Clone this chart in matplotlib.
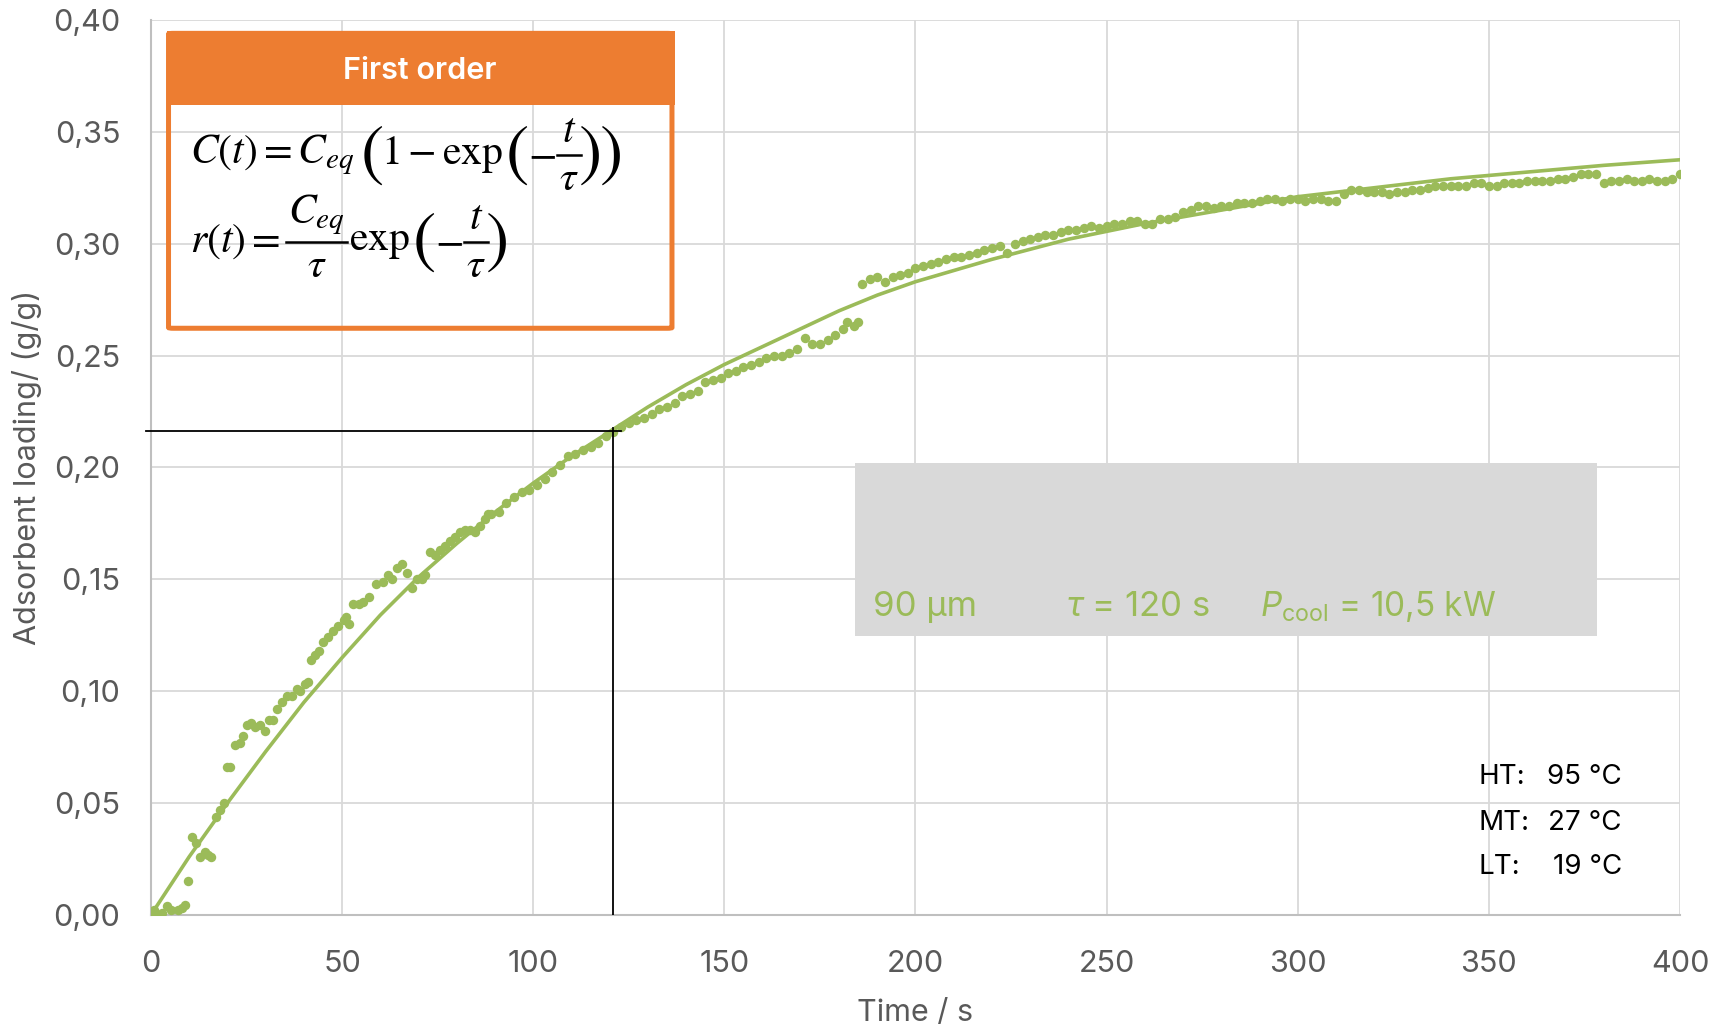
import matplotlib
matplotlib.use("Agg")
import matplotlib.pyplot as plt
from matplotlib.patches import Rectangle, FancyBboxPatch
from matplotlib.lines import Line2D
from matplotlib.transforms import IdentityTransform

plt.rcParams['font.family'] = ['Inter', 'DejaVu Sans']
plt.rcParams['mathtext.fontset'] = 'custom'
plt.rcParams['mathtext.rm'] = 'Inter'
plt.rcParams['mathtext.it'] = 'Inter:italic'

time_s = [0, 0.8, 1.5, 3.0, 4.1, 5.3, 7.1, 8.0, 8.9, 9.8, 10.8, 11.9, 12.8, 14.1, 15.0, 15.8,
          17.0, 18.0, 19.0, 19.8, 20.8, 22.0, 23.3, 24.0, 25.0, 26.3, 27.2, 28.5, 29.8, 31.0,
          32.0, 32.9, 34.2, 35.5, 36.8, 38.1, 39.1, 40.3, 41.1, 42.0, 42.9, 44.0, 44.9, 46.4,
          47.7, 49.0, 50.4, 51.1, 51.9, 52.9, 54.5, 55.5, 57.1, 59.0, 60.8, 62.1, 63.0, 64.3,
          65.8, 66.9, 68.2, 69.5, 70.8, 71.6, 73.0, 74.3, 75.6, 76.9, 78.2, 79.5, 80.8, 82.1,
          83.5, 84.8, 86.1, 87.4, 88.2,
          89, 91, 93, 95, 97, 99, 101, 103, 105, 107, 109, 111, 113, 115, 117, 119, 121, 123,
          125, 127, 129, 131, 133, 135, 137, 139, 141, 143, 145, 147, 149, 151, 153, 155, 157,
          159, 161, 163, 165, 167, 169, 171, 173, 175, 177, 179, 181, 182, 184, 185,
          186, 188, 190, 192, 194, 196, 198, 200, 202, 204, 206, 208, 210, 212, 214, 216, 218,
          220, 222, 224, 226, 228, 230, 232, 234, 236, 238, 240, 242, 244, 246, 248, 250, 252,
          254, 256, 258, 260, 262, 264, 266, 268, 270, 272, 274, 276, 278, 280, 282, 284, 286,
          288, 290, 292, 294, 296, 298, 300, 302, 304, 306, 308, 310, 312, 314, 316, 318, 320,
          322, 324, 326, 328, 330, 332, 334, 336, 338, 340, 342, 344, 346, 348, 350, 352, 354,
          356, 358, 360, 362, 364, 366, 368, 370, 372, 374, 376, 378, 380, 382, 384, 386, 388,
          390, 392, 394, 396, 398, 400]
loading = [0.000, 0.002, 0.000, 0.001, 0.004, 0.002, 0.002, 0.003, 0.0045, 0.015, 0.035, 0.032,
           0.026, 0.028, 0.027, 0.026, 0.044, 0.047, 0.050, 0.066, 0.066, 0.076, 0.077, 0.080,
           0.085, 0.086, 0.084, 0.085, 0.082, 0.087, 0.087, 0.092, 0.095, 0.098, 0.098, 0.101,
           0.100, 0.103, 0.104, 0.114, 0.116, 0.118, 0.122, 0.124, 0.127, 0.129, 0.132, 0.133,
           0.130, 0.139, 0.139, 0.140, 0.142, 0.148, 0.149, 0.152, 0.150, 0.155, 0.157, 0.153,
           0.146, 0.150, 0.150, 0.152, 0.162, 0.161, 0.163, 0.165, 0.167, 0.169, 0.171, 0.172,
           0.172, 0.171, 0.174, 0.177, 0.179,
           0.179, 0.180, 0.184, 0.187, 0.189, 0.190, 0.192, 0.195, 0.198, 0.201, 0.205, 0.206,
           0.208, 0.209, 0.211, 0.214, 0.216, 0.218, 0.220, 0.221, 0.222, 0.224, 0.226, 0.227,
           0.229, 0.232, 0.233, 0.234, 0.238, 0.239, 0.240, 0.242, 0.243, 0.245, 0.246, 0.247,
           0.249, 0.250, 0.250, 0.251, 0.253, 0.258, 0.255, 0.255, 0.257, 0.259, 0.262, 0.265,
           0.263, 0.265,
           0.282, 0.284, 0.285, 0.283, 0.285, 0.286, 0.287, 0.289, 0.290, 0.291, 0.292, 0.293,
           0.294, 0.294, 0.295, 0.296, 0.297, 0.298, 0.299, 0.296, 0.300, 0.301, 0.302, 0.303,
           0.304, 0.304, 0.305, 0.306, 0.306, 0.307, 0.308, 0.307, 0.308, 0.309, 0.309, 0.310,
           0.310, 0.309, 0.309, 0.311, 0.311, 0.312, 0.314, 0.315, 0.317, 0.317, 0.316, 0.317,
           0.317, 0.318, 0.318, 0.318, 0.319, 0.320, 0.320, 0.319, 0.320, 0.320, 0.319, 0.320,
           0.320, 0.319, 0.319, 0.322, 0.324, 0.324, 0.323, 0.323, 0.323, 0.322, 0.323, 0.323,
           0.324, 0.324, 0.325, 0.326, 0.326, 0.326, 0.326, 0.326, 0.327, 0.327, 0.326, 0.326,
           0.327, 0.327, 0.327, 0.328, 0.328, 0.328, 0.328, 0.329, 0.329, 0.330, 0.331, 0.331,
           0.331, 0.327, 0.328, 0.328, 0.329, 0.328, 0.328, 0.329, 0.328, 0.328, 0.329, 0.331]

# first order fit curve
fit_t = [0, 10, 20, 30, 40, 50, 60, 70, 80, 90, 100, 110, 120, 130, 140, 150, 160, 170, 180,
         190, 200, 220, 240, 260, 280, 300, 320, 340, 360, 380, 400]
fit_c = [0, 0.026, 0.050, 0.073, 0.095, 0.115, 0.134, 0.151, 0.166, 0.180, 0.193, 0.205, 0.216,
         0.227, 0.237, 0.246, 0.254, 0.262, 0.270, 0.277, 0.283, 0.293, 0.302, 0.309, 0.315,
         0.321, 0.325, 0.329, 0.332, 0.335, 0.3375]

tau_t = 121
tau_c = 0.2165

x_ticks = [0, 50, 100, 150, 200, 250, 300, 350, 400]
y_ticks = [0, 0.05, 0.10, 0.15, 0.20, 0.25, 0.30, 0.35, 0.40]
y_labels = ['0,00', '0,05', '0,10', '0,15', '0,20', '0,25', '0,30', '0,35', '0,40']

green = '#9BBB59'
orange = '#ED7D31'
grey_txt = '#595959'

EQ_FS = 30
PAR_FS = 50
# equation pieces: ('t', mathtext, fontsize, gap px) or ('f', numerator, denominator, gap px)
eq_c = [('t', r'$C(t) = C_{eq}$', EQ_FS, 5), ('t', r'$($', PAR_FS, -2),
        ('t', r'$1 - \exp$', EQ_FS, 2), ('t', r'$($', PAR_FS, 0), ('t', r'$-$', EQ_FS, 1),
        ('f', r'$t$', r'$\tau$', -3), ('t', r'$)$', PAR_FS, -1), ('t', r'$)$', PAR_FS, 0)]
eq_r = [('t', r'$r(t) =$', EQ_FS, 6), ('f', r'$C_{eq}$', r'$\tau$', 2), ('t', r'$\exp$', EQ_FS, 2),
        ('t', r'$($', PAR_FS, 0), ('t', r'$-$', EQ_FS, 1), ('f', r'$t$', r'$\tau$', -3),
        ('t', r'$)$', PAR_FS, 0)]

fig = plt.figure(figsize=(17.27, 10.27), dpi=100)
ax = fig.add_axes([0.0874, 0.1091, 0.8854, 0.8715])

ax.plot(time_s, loading, 'o', color=green, ms=6.8, mec='none', zorder=3)
ax.plot(fit_t, fit_c, '-', color=green, lw=2.6, zorder=4)

# tau marker lines
ax.plot([-1.2, tau_t + 2], [tau_c, tau_c], color='black', lw=1.3, clip_on=False, zorder=5)
ax.plot([tau_t, tau_t], [0, tau_c + 0.001], color='black', lw=1.3, zorder=5)

ax.set_xlim(0, 400)
ax.set_ylim(0, 0.40)
ax.set_xticks(x_ticks)
ax.set_yticks(y_ticks)
ax.set_yticklabels(y_labels)
ax.grid(True, color='#D9D9D9', lw=1.3)
ax.set_axisbelow(True)
for s in ['top', 'right']:
    ax.spines[s].set_visible(False)
for s in ['left', 'bottom']:
    ax.spines[s].set_color('#BFBFBF')
    ax.spines[s].set_linewidth(1.5)
ax.tick_params(axis='both', length=0, labelsize=22, labelcolor=grey_txt)
ax.tick_params(axis='x', pad=25)
ax.tick_params(axis='y', pad=22)
ax.set_xlabel('Time / s', fontsize=22, color=grey_txt, labelpad=15)
ax.set_ylabel('Adsorbent loading/ (g/g)', fontsize=22, color=grey_txt, labelpad=8)

# orange formula box
ax.add_patch(FancyBboxPatch((4.6, 0.2622), 131.7, 0.1318, boxstyle='round,pad=0,rounding_size=1.2',
                            fill=False, ec=orange, lw=3.6, zorder=6, mutation_aspect=0.0003))
ax.add_patch(Rectangle((4.6, 0.3635), 131.7, 0.0305, fc=orange, ec=orange, lw=3.6, zorder=6))
ax.text(70.4, 0.377, 'First order', color='white', fontsize=22, fontweight='semibold',
        ha='center', va='center', zorder=7)

renderer = fig.canvas.get_renderer()


def put(x, y, s, fs, ha, va):
    return fig.text(x, y, s, fontsize=fs, math_fontfamily='stix', ha=ha, va=va,
                    transform=IdentityTransform(), zorder=7)


def math_row(x0, y0, pieces):
    # lay the pieces side by side around one fraction-bar height
    xd, yd = ax.transData.transform((x0, y0))
    for p in pieces:
        if p[0] == 't':
            t = put(xd, yd, p[1], p[2], 'left', 'center')
            xd = t.get_window_extent(renderer).x1 + p[3]
        else:
            num = put(xd, yd + 5, p[1], EQ_FS, 'center', 'bottom')
            den = put(xd, yd - 5, p[2], EQ_FS, 'center', 'top')
            w = max(num.get_window_extent(renderer).width,
                    den.get_window_extent(renderer).width) + 4
            num.set_x(xd + w / 2)
            den.set_x(xd + w / 2)
            fig.add_artist(Line2D([xd, xd + w], [yd, yd], color='black', lw=1.8,
                                  transform=IdentityTransform(), zorder=7))
            xd = xd + w + p[3]


math_row(10.3, 0.3397, eq_c)
math_row(10.3, 0.3009, eq_r)

# grey info box
ax.add_patch(Rectangle((184.1, 0.1245), 194.3, 0.0777, fc='#D9D9D9', ec='none', zorder=1))
ax.text(189.0, 0.1335, '90 µm', color=green, fontsize=25, va='baseline', zorder=7)
ax.text(239.5, 0.1335, r'$\it{\tau}$ = 120 s', color=green, fontsize=25, va='baseline', zorder=7)
ax.text(290.0, 0.1335, r'$\it{P}_{\mathrm{cool}}$ = 10,5 kW', color=green, fontsize=24,
        va='baseline', zorder=7)

# temperature levels
for lab, val, yy in [('HT:', '95 °C', 0.0615), ('MT:', '27 °C', 0.0413), ('LT:', '19 °C', 0.0216)]:
    ax.text(347.3, yy, lab, fontsize=20, color='black', ha='left', va='center')
    ax.text(384.8, yy, val, fontsize=20, color='black', ha='right', va='center')

fig.savefig('out.png', dpi=100)
